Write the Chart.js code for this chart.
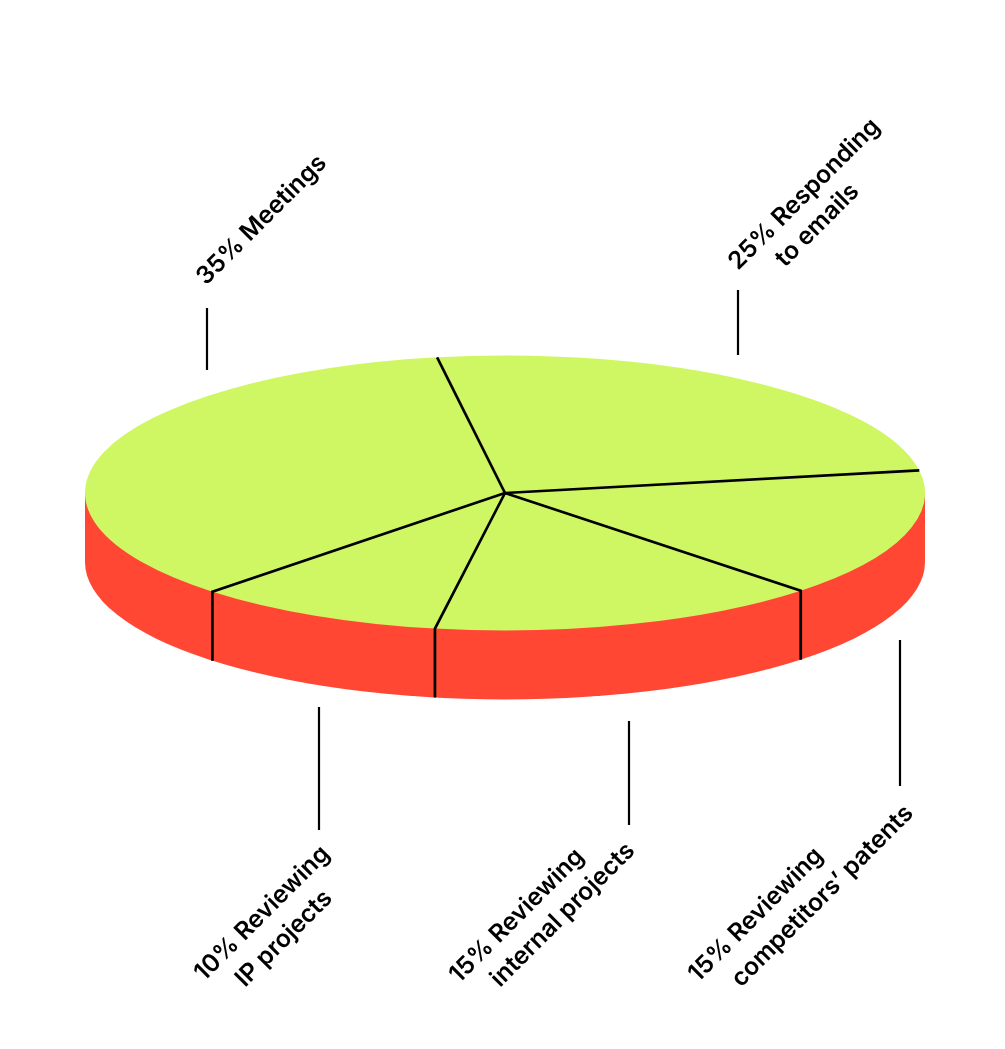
<!DOCTYPE html>
<html>
<head>
<meta charset="utf-8">
<title>Time split</title>
<script src="https://cdn.jsdelivr.net/npm/chart.js@4/dist/chart.umd.min.js"></script>
<style>
  html, body { margin: 0; padding: 0; background: #fff; }
  canvas { display: block; }
</style>
</head>
<body>
<canvas id="my-chart" width="1005" height="1049"></canvas>
<script>
// slices, clockwise from the spoke near the top
var categories = ["Responding to emails", "Reviewing competitors' patents", "Reviewing internal projects", "Reviewing IP projects", "Meetings"]
var shares = [24.95, 15.2, 15.1, 9.6, 35.15]

// label lines, rotated 45deg: text, then start of the baseline
var labelLines = [
    ["35% Meetings", 206, 286],
    ["25% Responding", 738, 271],
    ["to emails", 785, 268],
    ["10% Reviewing", 204, 982],
    ["IP projects", 245, 988],
    ["15% Reviewing", 459, 984],
    ["internal projects", 500, 988],
    ["15% Reviewing", 698, 983],
    ["competitors\u2019 patents", 741, 988]
]
// leader lines: x, top, bottom
var leaders = [
    [207, 308, 370],
    [738, 290, 355],
    [319, 707, 830],
    [629, 721, 825],
    [900, 640, 786]
]

var squash = 137.5 / 420   // how flat the top of the pie is
var depth = 69             // height of the red side
var lime = "#CFF763"
var red = "#FF4733"

var pie3d = {
    id: "pie3d",
    beforeDatasetsDraw: function(chart) {
        var ctx = chart.ctx
        var arc = chart.getDatasetMeta(0).data[0]
        var r = arc.outerRadius, ry = r * squash

        // red side goes under everything
        ctx.save()
        ctx.fillStyle = red
        ctx.beginPath()
        ctx.ellipse(arc.x, arc.y + depth, r, ry, 0, 0, Math.PI)
        ctx.lineTo(arc.x - r, arc.y)
        ctx.lineTo(arc.x + r, arc.y)
        ctx.closePath()
        ctx.fill()
        ctx.restore()

        // flatten the slices
        ctx.save()
        ctx.translate(arc.x, arc.y)
        ctx.scale(1, squash)
        ctx.translate(-arc.x, -arc.y)
    },
    afterDatasetsDraw: function(chart) {
        var ctx = chart.ctx
        ctx.restore()

        ctx.save()
        ctx.strokeStyle = "#000"
        ctx.lineCap = "butt"
        ctx.lineWidth = 2.7
        chart.getDatasetMeta(0).data.forEach(function(arc) {
            var ex = arc.x + Math.cos(arc.startAngle) * arc.outerRadius
            var ey = arc.y + Math.sin(arc.startAngle) * arc.outerRadius * squash
            ctx.beginPath()
            ctx.moveTo(arc.x, arc.y)
            ctx.lineTo(ex, ey)
            // edge carries on down the side at the front
            if (Math.sin(arc.startAngle) > 0) ctx.lineTo(ex, ey + depth)
            ctx.stroke()
        })

        ctx.lineWidth = 2.2
        leaders.forEach(function(l) {
            ctx.beginPath()
            ctx.moveTo(l[0], l[1])
            ctx.lineTo(l[0], l[2])
            ctx.stroke()
        })

        ctx.fillStyle = "#000"
        ctx.font = "600 24.5px Inter"
        ctx.textAlign = "left"
        ctx.textBaseline = "alphabetic"
        labelLines.forEach(function(t) {
            ctx.save()
            ctx.translate(t[1], t[2])
            ctx.rotate(-Math.PI / 4)
            ctx.fillText(t[0], 0, 0)
            ctx.restore()
        })
        ctx.restore()
    }
}

var chart = new Chart(document.getElementById("my-chart").getContext("2d"), {
    type: "pie",
    data: {
        labels: categories,
        datasets: [{
            data: shares,
            backgroundColor: lime,
            borderWidth: 0
        }]
    },
    options: {
        responsive: false,
        animation: false,
        rotation: -9.3,
        layout: { padding: { left: 85, right: 80, top: 73, bottom: 136 } },
        plugins: {
            legend: { display: false },
            tooltip: { enabled: false }
        }
    },
    plugins: [pie3d]
})
</script>
</body>
</html>
